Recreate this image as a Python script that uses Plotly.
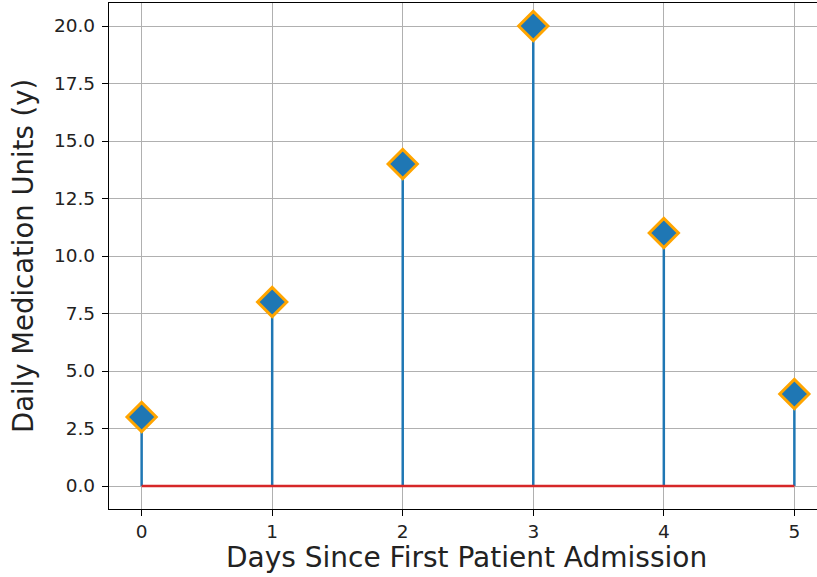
import plotly.graph_objects as go

days = [0, 1, 2, 3, 4, 5]
units = [3, 8, 14, 20, 11, 4]
y_ticks = [0, 2.5, 5, 7.5, 10, 12.5, 15, 17.5, 20]
y_tick_labels = ["0.0", "2.5", "5.0", "7.5", "10.0", "12.5", "15.0", "17.5", "20.0"]
x_title = "Days Since First Patient Admission"
y_title = "Daily Medication Units (y)"

stem_x, stem_y = [], []
for d, u in zip(days, units):
    stem_x += [d, d, None]
    stem_y += [0, u, None]

fig = go.Figure()
fig.add_trace(go.Scatter(x=stem_x, y=stem_y, mode="lines",
                         line=dict(color="#1f77b4", width=2.5), hoverinfo="skip",
                         showlegend=False))
fig.add_trace(go.Scatter(x=[min(days), max(days)], y=[0, 0], mode="lines",
                         line=dict(color="#d62728", width=2.5), showlegend=False))
fig.add_trace(go.Scatter(x=days, y=units, mode="markers",
                         marker=dict(symbol="diamond", size=22.5, color="#1f77b4",
                                     line=dict(color="orange", width=3)),
                         showlegend=False, cliponaxis=False))

font = "DejaVu Sans"
fig.update_layout(
    width=827, height=577, autosize=False,
    margin=dict(l=109, r=0, t=3, b=68),
    plot_bgcolor="white", paper_bgcolor="white",
    font=dict(family=font, color="#222222"),
    xaxis=dict(range=[-0.25, 5.25], tickvals=days, ticktext=[str(d) for d in days],
               showgrid=True, gridcolor="#b0b0b0", gridwidth=1,
               showline=True, linecolor="black", linewidth=1.3, mirror=True,
               ticks="outside", ticklen=6, tickcolor="black", tickwidth=1.3,
               tickfont=dict(size=18.5, family=font), zeroline=False),
    yaxis=dict(range=[-1, 21], tickvals=y_ticks, ticktext=y_tick_labels,
               showgrid=True, gridcolor="#b0b0b0", gridwidth=1,
               showline=True, linecolor="black", linewidth=1.3,
               ticks="outside", ticklen=6, tickcolor="black", tickwidth=1.3,
               ticklabelstandoff=3,
               tickfont=dict(size=18.5, family=font), zeroline=False),
    annotations=[
        dict(text=x_title, xref="paper", yref="paper", x=0.4986, y=-0.0968,
             xanchor="center", yanchor="middle", showarrow=False,
             font=dict(size=28, family=font, color="#222222")),
        dict(text=y_title, xref="paper", yref="paper", x=-0.1198, y=0.5,
             xanchor="center", yanchor="middle", showarrow=False, textangle=-90,
             font=dict(size=27.5, family=font, color="#222222")),
    ],
)

fig.write_html("out.html", config={"displayModeBar": False},
               post_script="document.body.style.margin='0px';document.body.style.overflow='hidden';")
